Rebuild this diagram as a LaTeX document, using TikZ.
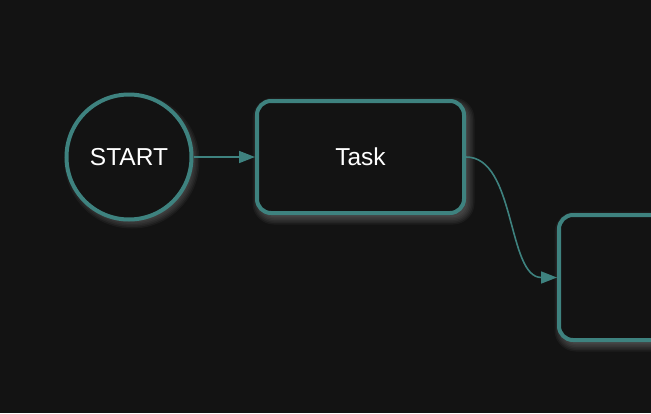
\documentclass[tikz,border=0pt]{standalone}
\usepackage{fontspec}
\setmainfont{Liberation Sans}
\usetikzlibrary{arrows.meta,shapes.geometric}
\definecolor{bg}{HTML}{131313}
\definecolor{teal}{RGB}{62,130,127}
\definecolor{glowc}{RGB}{160,160,160}
\tikzset{
  nodebase/.style={draw=teal, line width=4pt, fill=bg, text=white,
    font=\fontsize{24.5}{28}\selectfont},
  startnode/.style={nodebase, circle, minimum size=125pt, inner sep=0pt},
  boxnode/.style={nodebase, rectangle, rounded corners=14pt, inner sep=0pt},
  conn/.style={draw=teal, line width=1.6pt, -{Triangle[length=16pt,width=12pt]}},
  glowlayer/.style={fill=glowc, fill opacity=0.07, draw=none}
}
\newcommand{\boxglow}[5]{%
  \foreach \g in {0,1.5,...,7.5}{%
    \fill[glowlayer, rounded corners=#5+\g] (#1-\g+3,#2-\g+4) rectangle (#3+\g+3,#4+\g+4);}}
\newcommand{\circglow}[3]{%
  \foreach \g in {0,1.5,...,7.5}{%
    \fill[glowlayer] (#1+3,#2+4) circle[radius=#3+\g];}}
\begin{document}
\begin{tikzpicture}[x=1pt,y=-1pt]
\fill[bg] (0,0) rectangle (651,413);
\useasboundingbox (0,0) rectangle (651,413);
\circglow{129}{157}{60}
\boxglow{257}{101}{464}{213}{14}
\boxglow{559}{215}{760}{340}{14}
\node[startnode] (start) at (129,157) {START};
\node[boxnode, minimum width=207pt, minimum height=112pt] (task) at (360.5,157) {Task};
\node[boxnode, minimum width=200pt, minimum height=125pt] (next) at (659,277.5) {};
\draw[conn] (start) -- (task);
\draw[conn] (task.east) .. controls +(50,0) and +(-50,0) .. (next.west);
\end{tikzpicture}
\end{document}
